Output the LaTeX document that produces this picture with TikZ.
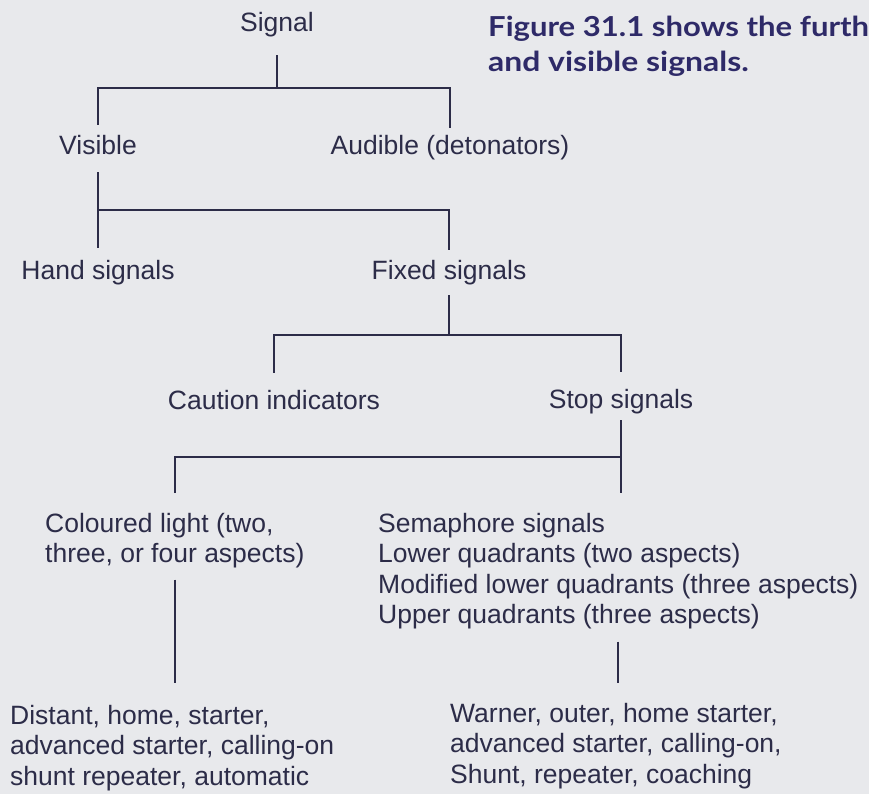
\documentclass[tikz,border=0pt]{standalone}
\usepackage{fontspec}
\setmainfont{Liberation Sans}
\newfontfamily\capfont{Lato}[FakeStretch=1.13]
\newfontfamily\capfontb{Lato}[FakeStretch=1.16]
\definecolor{bg}{HTML}{E8E9EC}
\definecolor{ink}{HTML}{2C2C48}
\definecolor{capink}{HTML}{2E2A68}
\tikzset{
  lbl/.style={inner sep=0pt, text height=19pt, text depth=6pt, anchor=base, text=ink,
              font=\fontsize{26.5}{30.5}\selectfont},
  blk/.style={inner sep=0pt, align=left, anchor=north west, text=ink,
              font=\fontsize{26.5}{30.5}\selectfont},
  ln/.style={draw=ink, line width=2pt},
  captxt/.style={inner sep=0pt, anchor=base west, text=capink,
                 font=\capfont\bfseries\fontsize{27.5}{34}\selectfont}
}
\begin{document}
\begin{tikzpicture}[x=1pt,y=-1pt]
\fill[bg] (0,0) rectangle (869,794);
\clip (0,0) rectangle (869,794);
% caption (cut off at the right edge, as in the reference)
\node[captxt] (cap1) at (488,37) {Figure 31.1 shows the furthe};
\node[captxt, font=\capfontb\bfseries\fontsize{27.5}{34}\selectfont] (cap2) at (488,72) {and visible signals.};
% nodes
\node[lbl] (signal) at (277,32) {Signal};
\node[lbl] (visible) at (98,155) {Visible};
\node[lbl] (audible) at (450,155) {Audible (detonators)};
\node[lbl] (hand) at (98,279) {Hand signals};
\node[lbl] (fixed) at (449,279) {Fixed signals};
\node[lbl] (caution) at (274,409) {Caution indicators};
\node[lbl] (stop) at (621,408) {Stop signals};
\node[blk] (col) at (45,513) {Coloured light (two,\\three, or four aspects)};
\node[blk] (sem) at (378,513) {Semaphore signals\\Lower quadrants (two aspects)\\Modified lower quadrants (three aspects)\\Upper quadrants (three aspects)};
\node[blk] (cl) at (10,705) {Distant, home, starter,\\advanced starter, calling-on\\shunt repeater, automatic};
\node[blk] (sl) at (450,703) {Warner, outer, home starter,\\advanced starter, calling-on,\\Shunt, repeater, coaching};
% bus junctions
\coordinate (bus1) at (277,88);
\coordinate (bus2) at (98,210);
\coordinate (bus3) at (449,335);
\coordinate (bus4) at (621,457);
% connectors
\draw[ln] ([yshift=-17pt]signal.south) -- (bus1);
\draw[ln] ([yshift=11pt]visible.north) |- (bus1) -| ([yshift=8pt]audible.north);
\draw[ln] ([yshift=-11pt]visible.south) -- ([yshift=12pt]hand.north);
\draw[ln] (bus2) -| ([yshift=10pt]fixed.north);
\draw[ln] ([yshift=-10pt]fixed.south) -- (bus3);
\draw[ln] ([yshift=17pt]caution.north) |- (bus3) -| ([yshift=17pt]stop.north);
\draw[ln] ([yshift=-6pt]stop.south) -- ([yshift=20pt]stop.south |- sem.north);
\draw[ln] ([yshift=20pt]col.north) |- (bus4);
\draw[ln] ([yshift=-11pt]col.south) -- ([yshift=22pt]col.south |- cl.north);
\draw[ln] ([yshift=-12pt]sem.south) -- ([yshift=20pt]sem.south |- sl.north);
\end{tikzpicture}
\end{document}
